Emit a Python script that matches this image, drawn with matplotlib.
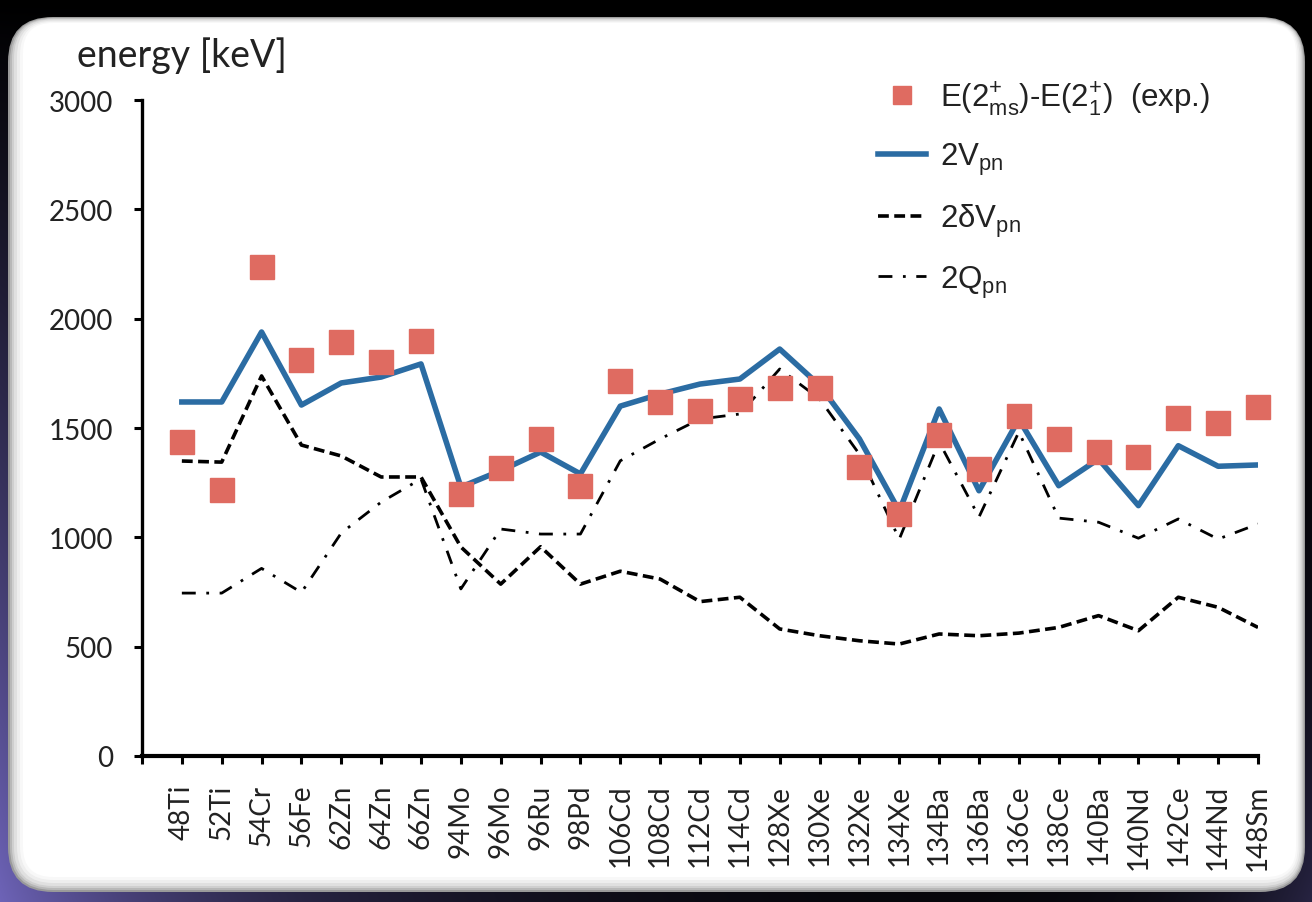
import numpy as np
import matplotlib

matplotlib.use("Agg")
import matplotlib.pyplot as plt
from matplotlib.patches import FancyBboxPatch
from matplotlib.font_manager import FontProperties


nuclei = ["48Ti", "52Ti", "54Cr", "56Fe", "62Zn", "64Zn", "66Zn", "94Mo", "96Mo", "96Ru",
          "98Pd", "106Cd", "108Cd", "112Cd", "114Cd", "128Xe", "130Xe", "132Xe", "134Xe",
          "134Ba", "136Ba", "136Ce", "138Ce", "140Ba", "140Nd", "142Ce", "144Nd", "148Sm"]

# E(2+ms) - E(2+1), experiment [keV]
exp_e = [1436, 1216, 2236, 1811, 1893, 1802, 1898, 1198, 1317, 1450,
         1235, 1715, 1619, 1578, 1633, 1683, 1683, 1322, 1107,
         1468, 1312, 1555, 1450, 1390, 1367, 1546, 1523, 1596]
# 2 V_pn
v_pn = [1619, 1619, 1939, 1605, 1706, 1733, 1793, 1230, 1305, 1390,
        1290, 1600, 1655, 1701, 1724, 1861, 1695, 1450, 1120,
        1587, 1213, 1540, 1236, 1358, 1145, 1419, 1325, 1331]
# 2 dV_pn
dv_pn = [1349, 1344, 1738, 1422, 1372, 1276, 1276, 956, 786, 957,
         786, 845, 809, 706, 726, 581, 550, 527, 512,
         558, 550, 562, 588, 642, 573, 726, 680, 588]
# 2 Q_pn
q_pn = [745, 745, 858, 748, 1020, 1161, 1267, 764, 1038, 1015,
        1015, 1350, 1450, 1541, 1564, 1770, 1633, 1380, 992,
        1436, 1093, 1482, 1088, 1069, 996, 1084, 992, 1061]

W, H = 1312, 903
plt.rcParams["font.family"] = ["Lato", "DejaVu Sans"]
plt.rcParams["mathtext.default"] = "regular"

fig = plt.figure(figsize=(W / 100, H / 100), dpi=100)
fig.patch.set_facecolor("black")

# backdrop: black slide with a purple glow from the lower left
bg = fig.add_axes([0, 0, 1, 1], zorder=-10)
yy, xx = np.mgrid[0:H, 0:W]
glow = np.clip(yy / H, 0, 1) ** 1.1 * np.exp(-xx / 300.0)
glow += 0.35 * np.clip(yy / H, 0, 1) ** 3 * np.exp(-(W - xx) / 120.0)
glow = np.clip(glow, 0, 1)
purple = np.array([0.43, 0.39, 0.72])
img = glow[..., None] * purple[None, None, :]
bg.imshow(img, extent=(0, W, H, 0), aspect="auto", interpolation="bilinear")
bg.set_xlim(0, W)
bg.set_ylim(H, 0)
bg.axis("off")

# rounded white panel with a soft grey bevel
for inset, shade in [(0, "#9a9a9a"), (2, "#b8b8b8"), (4, "#cfcfcf"), (6, "#e0e0e0"),
                     (9, "#eeeeee"), (12, "#f8f8f8"), (15, "white")]:
    bg.add_patch(FancyBboxPatch((8 + inset, 18 + inset * 0.4), 1297 - inset * 1.6, 875 - inset * 1.4,
                                boxstyle=f"round,pad=0,rounding_size={max(45 - inset, 20)}",
                                facecolor=shade, edgecolor="none"))

ax = fig.add_axes([142 / W, 1 - 757 / H, (1258 - 142) / W, (757 - 101) / H])
ax.set_facecolor("none")

x = np.arange(len(nuclei))
ax.plot(x, v_pn, color="#2b6ca3", lw=4.0, label="2V$_{pn}$", zorder=3)
ax.plot(x, dv_pn, color="black", lw=2.6, ls=(0, (3.0, 1.5)), label="2δV$_{pn}$", zorder=2)
ax.plot(x, q_pn, color="black", lw=2.0, ls=(0, (5.0, 3.8, 1.0, 3.8)), label="2Q$_{pn}$", zorder=2)
ax.plot(x, exp_e, ls="none", marker="s", ms=17.5, color="#df6b61", mec="#df6b61",
        label="E(2$^{+}_{ms}$)-E(2$^{+}_{1}$)  (exp.)", zorder=5, clip_on=False)

ax.set_xlim(-1, len(nuclei) - 1)
ax.set_ylim(0, 3000)
ax.set_yticks(np.arange(0, 3001, 500))
ax.set_xticks(np.arange(-1, len(nuclei)))
ax.set_xticklabels([""] + nuclei, rotation=90, fontsize=20)
ax.tick_params(axis="y", labelsize=20, length=6, width=2.2, pad=15, colors="black")
ax.tick_params(axis="x", length=6, width=2.2, pad=14)
for side in ["top", "right"]:
    ax.spines[side].set_visible(False)
ax.spines["left"].set_linewidth(2.4)
ax.spines["bottom"].set_linewidth(3.0)
for lab in ax.get_yticklabels() + ax.get_xticklabels():
    lab.set_color("#222222")

fig.text(77 / W, 1 - 67 / H, "energy [keV]", fontsize=27, color="#222222", va="baseline")

h, l = ax.get_legend_handles_labels()
order = [3, 0, 1, 2]
leg = ax.legend([h[i] for i in order], [l[i] for i in order],
                loc="upper left", bbox_to_anchor=(878 / W, 1 - 80 / H), bbox_transform=fig.transFigure,
                frameon=False, prop=FontProperties(family="Liberation Sans", size=22.5),
                handlelength=1.55, handletextpad=0.45, labelspacing=0.78, markerscale=0.75,
                borderaxespad=0, borderpad=0)
for t in leg.get_texts():
    t.set_color("#222222")

fig.savefig("out.png", dpi=100, facecolor=fig.get_facecolor())
